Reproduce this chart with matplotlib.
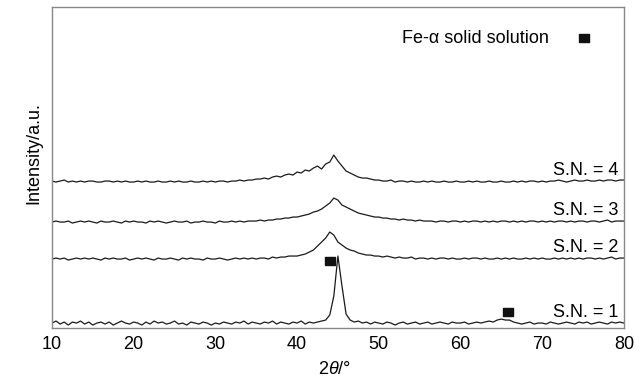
import matplotlib.pyplot as plt
import numpy as np
from matplotlib.path import Path

plt.rcParams['font.family'] = ['Liberation Sans', 'DejaVu Sans']
plt.rcParams['mathtext.fontset'] = 'custom'
plt.rcParams['mathtext.rm'] = 'Liberation Sans'
plt.rcParams['mathtext.it'] = 'Liberation Sans:italic'

# passo de varredura 0.5 graus
two_theta = np.linspace(10, 80, 141)

# intensidades (relativas a linha de base de cada curva)
sn1 = [1, 3, 0, 2, -1, 2, 1, 3, 0, 2,
       -1, 1, 2, 0, 2, -1, 1, 3, 1, 0,
       2, 1, -1, 2, 0, 3, 1, 2, 0, 1,
       3, 0, 1, -1, 2, 1, 0, 2, 1, -1,
       1, 0, 2, 1, 0, 2, 1, 3, 0, 2,
       1, 0, 2, 1, 3, 0, 2, 1, 0, 2,
       1, 3, 0, 2, 1, 2, 3, 4, 9, 28,
       68, 38, 10, 4, 2, 3, 1, 2, 0, 2,
       1, 0, 2, 1, -1, 1, 2, 0, 1, 2,
       0, 1, 2, 0, 1, 2, 1, 0, 2, 1,
       1, 2, 0, 1, 2, 1, 2, 3, 2, 4,
       5, 4, 4, 2, 1, 0, 1, 2, 0, 1,
       1, 0, 2, 1, 0, 1, 2, 1, 0, 2,
       1, 2, 0, 1, 2, 1, 0, 2, 1, 2,
       1]
sn2 = [0, 1, 0, 1, -1, 0, 1, 0, 1, 0,
       1, 0, -1, 1, 0, 1, 0, 0, 1, -1,
       0, 1, 0, 1, 0, -1, 1, 0, 0, 1,
       0, -1, 1, 0, 1, 0, 0, -1, 1, 0,
       0, 1, 0, -1, 0, 1, 0, 1, 0, 1,
       0, 1, 1, 0, 2, 1, 2, 2, 3, 3,
       3, 4, 5, 7, 9, 13, 17, 21, 27, 24,
       17, 14, 11, 9, 8, 6, 5, 4, 4, 3,
       3, 2, 3, 2, 1, 2, 1, 1, 2, 0,
       1, 1, 0, 1, 0, 1, 1, 0, 1, 0,
       0, 1, 0, 1, 1, 0, 1, 0, 0, 1,
       0, 1, 0, 1, 0, 0, 1, 0, 1, 0,
       1, 0, 0, 1, 0, 1, 0, 1, 0, 1,
       0, 1, 1, 0, 1, 0, 1, 2, 0, 1,
       1]
sn3 = [0, 1, 0, 0, 1, -1, 0, 1, 0, 1,
       0, -1, 1, 0, 0, 1, 0, -1, 1, 0,
       1, 0, 0, -1, 1, 0, 1, 0, -1, 0,
       1, 0, 0, 1, -1, 0, 0, 1, 0, 0,
       -1, 1, 0, 0, 1, 0, 1, 0, 1, 1,
       1, 2, 1, 2, 2, 3, 3, 4, 4, 5,
       5, 6, 7, 8, 10, 11, 13, 16, 19, 24,
       22, 17, 15, 13, 11, 9, 8, 7, 6, 5,
       5, 4, 4, 3, 3, 2, 3, 2, 2, 1,
       2, 1, 1, 1, 0, 1, 1, 0, 1, 1,
       0, 1, 0, 1, 1, 0, 1, 0, 1, 0,
       1, 1, 0, 1, 0, 1, 0, 1, 1, 0,
       1, 0, 1, 0, 1, 1, 0, 1, 0, 1,
       1, 0, 1, 1, 0, 1, 2, 0, 1, 1,
       1]
sn4 = [1, 0, 1, 2, 0, 1, 0, 1, 0, 1,
       1, 0, 0, 1, 1, 0, 1, 0, 1, 0,
       0, 1, 0, 1, 0, 0, 1, 0, 0, 1,
       0, 1, 0, 0, 1, 0, 0, 1, 0, 1,
       0, 1, 1, 0, 1, 1, 2, 1, 2, 2,
       3, 3, 4, 3, 5, 6, 5, 7, 8, 7,
       10, 9, 12, 11, 14, 16, 13, 18, 20, 27,
       21, 16, 11, 9, 7, 5, 4, 4, 3, 2,
       2, 1, 1, 2, 0, 1, 1, 0, 1, 0,
       0, 1, 0, 1, 0, 0, 1, 0, 0, 1,
       0, 0, 1, 0, 1, 0, 0, 1, 0, 0,
       1, 0, 0, 1, 0, 1, 0, 1, 1, 0,
       1, 0, 1, 1, 2, 1, 0, 1, 2, 1,
       1, 2, 1, 1, 2, 1, 2, 2, 1, 2,
       2]

curvas = [sn1, sn2, sn3, sn4]
rotulos = ['S.N. = 1', 'S.N. = 2', 'S.N. = 3', 'S.N. = 4']
deslocamentos = [4, 69, 106, 146]

# picos de Fe-alfa marcados
pico_x = [44.0, 65.8]
pico_y = [67, 16]

fig = plt.figure(figsize=(6.44, 3.91), dpi=100)
ax = fig.add_axes([0.0807, 0.161, 0.888, 0.821])

for curva, desl in zip(curvas, deslocamentos):
    ax.plot(two_theta, np.array(curva) + desl, color='#1a1a1a', lw=0.9)

for rot, desl in zip(rotulos, deslocamentos):
    ax.text(79.3, desl + 12, rot, ha='right', va='center', fontsize=13)

# marcador retangular
ret = Path([[-1.4, -1], [1.4, -1], [1.4, 1], [-1.4, 1], [-1.4, -1]])
ax.plot(pico_x, pico_y, ls='none', marker=ret, ms=7.5, color='#111111')
ax.plot([75.1], [290], ls='none', marker=ret, ms=7.5, color='#111111')
ax.text(70.8, 290, 'Fe-α solid solution', ha='right', va='center', fontsize=13)

ax.set_xlim(10, 80)
ax.set_ylim(0, 321)
ax.set_xticks([10, 20, 30, 40, 50, 60, 70, 80])
ax.set_yticks([])
ax.tick_params(axis='x', length=0, pad=6, labelsize=13)
for s in ax.spines.values():
    s.set_color('#888888')
    s.set_linewidth(1.0)

ax.set_xlabel(r'2$\theta$/°', fontsize=13)
ax.xaxis.set_label_coords(0.494, -0.103)
ax.set_ylabel('Intensity/a.u.', fontsize=13)
ax.yaxis.set_label_coords(-0.017, 0.544)

fig.savefig('out.png', dpi=100)
